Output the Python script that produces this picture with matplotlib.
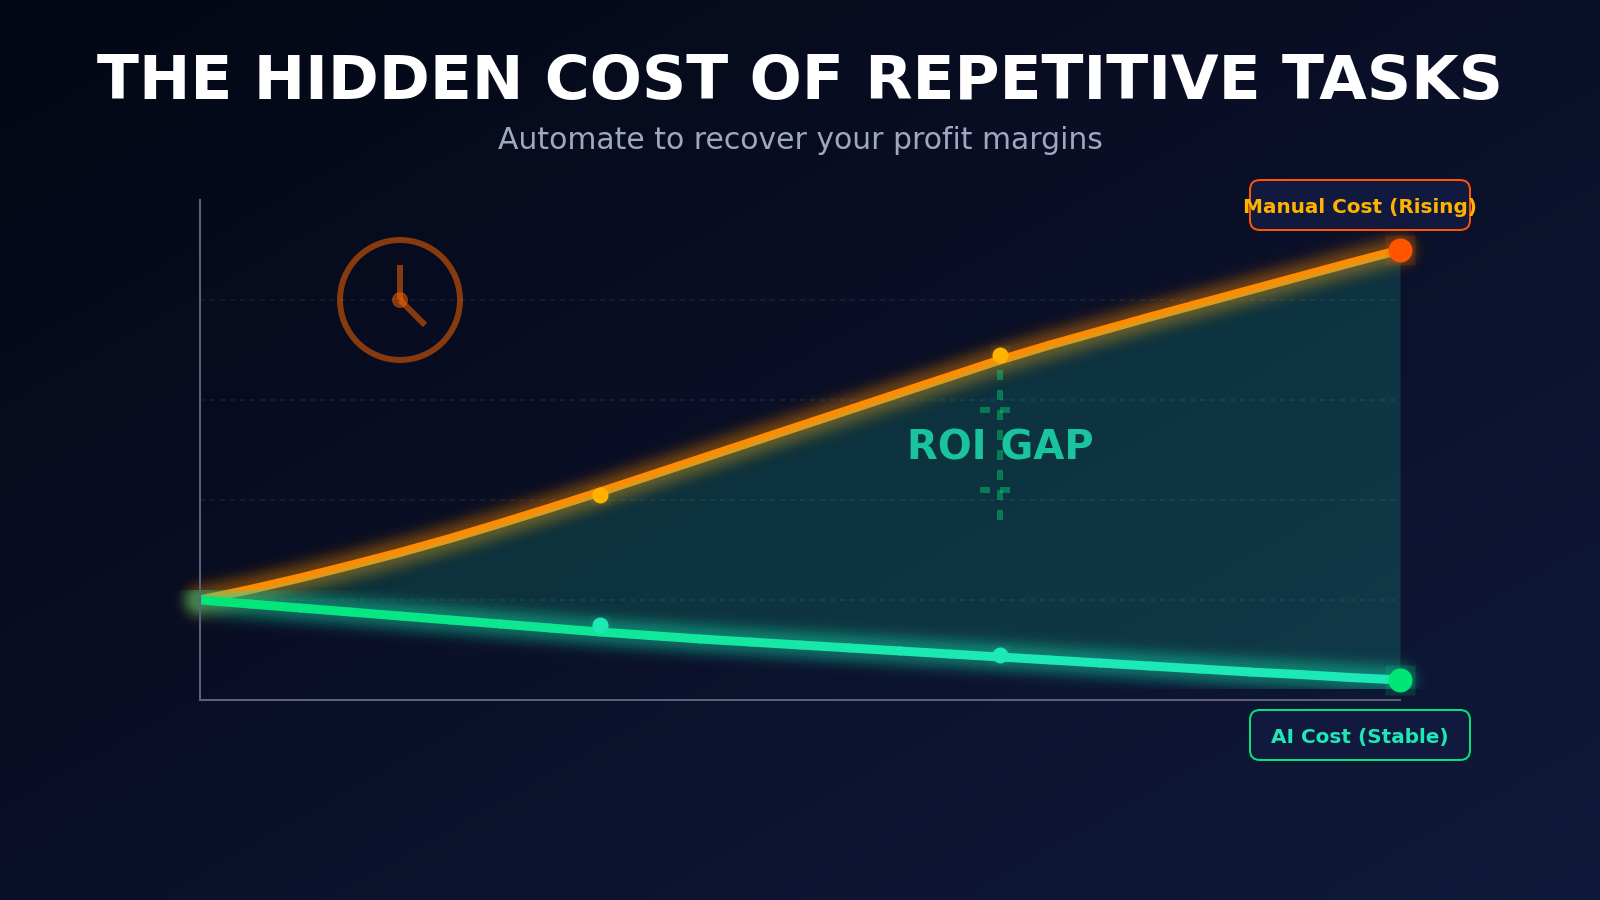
import numpy as np
import matplotlib
matplotlib.use("Agg")
import matplotlib.pyplot as plt
from matplotlib.collections import LineCollection
from matplotlib.colors import to_rgb
from matplotlib.patches import Circle, FancyBboxPatch, Rectangle

plt.rcParams['font.family'] = ['DejaVu Sans']
plt.rcParams['lines.scale_dashes'] = False

months = [0, 0.5, 1, 1.5, 2, 2.5, 3, 3.5, 4, 4.5, 5, 5.5, 6,
          6.5, 7, 7.5, 8, 8.5, 9, 9.5, 10, 10.5, 11, 11.5, 12]
manual_cost = [1.00, 1.105, 1.22, 1.345, 1.475, 1.615, 1.765, 1.92, 2.08, 2.245, 2.41, 2.575, 2.74,
               2.905, 3.07, 3.235, 3.40, 3.55, 3.69, 3.83, 3.965, 4.10, 4.235, 4.37, 4.50]
ai_cost = [1.00, 0.96, 0.92, 0.88, 0.84, 0.80, 0.76, 0.72, 0.68, 0.645, 0.61, 0.58, 0.55,
           0.52, 0.49, 0.46, 0.43, 0.40, 0.37, 0.34, 0.31, 0.28, 0.255, 0.225, 0.20]

manual_marker_months = [4, 8]
manual_marker_values = [2.05, 3.45]
ai_marker_months = [4, 8]
ai_marker_values = [0.75, 0.45]
grid_levels = [1, 2, 3, 4]

TITLE = "THE HIDDEN COST OF REPETITIVE TASKS"
SUBTITLE = "Automate to recover your profit margins"
MANUAL_LABEL = "Manual Cost (Rising)"
AI_LABEL = "AI Cost (Stable)"
GAP_LABEL = "ROI GAP"

ORANGE = "#ff8c00"
RED_ORANGE = "#ff5500"
AMBER = "#ffb300"
GREEN = "#00e676"
TEAL = "#1de9b6"

DPI = 100
W, H = 1600, 900
PX = 72 / DPI  # points per pixel
LINE_PX = 9


def gradient_bg():
    # corner to corner gradient over the whole canvas
    yy, xx = np.mgrid[0:H, 0:W]
    t = (xx / W + yy / H) / 2
    stops = [0.0, 0.3, 0.5, 1.0]
    cols = np.array([to_rgb("#030814"), to_rgb("#070c20"), to_rgb("#0b1029"), to_rgb("#0f1a3a")])
    return np.dstack([np.interp(t, stops, cols[:, i]) for i in range(3)])


def glow(ax, x, y, color, clip, peak=0.42, sigma=9.5, zorder=2):
    # stack of wide faint strokes, adding up to a gaussian falloff
    dists = np.arange(36, 0, -2)
    done = 0.0
    for d in dists:
        target = peak * np.exp(-d ** 2 / (2 * sigma ** 2))
        a = 1 - (1 - target) / (1 - done)
        done = target
        line, = ax.plot(x, y, color=color, alpha=a, lw=(LINE_PX + 2 * d) * PX,
                        solid_capstyle='round', solid_joinstyle='round',
                        zorder=zorder, clip_on=True)
        line.set_clip_path(clip)


fig = plt.figure(figsize=(W / DPI, H / DPI), dpi=DPI)

bg = fig.add_axes([0, 0, 1, 1], zorder=0)
bg.imshow(gradient_bg(), aspect='auto', interpolation='bilinear')
bg.axis('off')

# plot area: 100 px per unit on both axes
ax = fig.add_axes([200 / W, 200 / H, 1200 / W, 500 / H], zorder=1)
ax.patch.set_alpha(0)
ax.set_xlim(0, 12)
ax.set_ylim(0, 5)
ax.set_xticks([])
ax.set_yticks([])
for side in ['top', 'right']:
    ax.spines[side].set_visible(False)
for side in ['left', 'bottom']:
    ax.spines[side].set_color("#5c6178")
    ax.spines[side].set_linewidth(2 * PX)
    ax.spines[side].set_zorder(6)

ax.hlines(grid_levels, 0, 12, colors="#ffffff", alpha=0.08, lw=1.5 * PX,
          linestyles=[(0, (5 * PX, 5 * PX))], zorder=1)

# manual cost goes under the gap fill, so its lower half gets tinted
manual_clip = Rectangle((-1.2, 0.65), 14.4, 4.2, transform=ax.transData)
glow(ax, months, manual_cost, ORANGE, manual_clip, zorder=2)
ax.plot(months, manual_cost, color=ORANGE, lw=LINE_PX * PX, solid_capstyle='butt',
        solid_joinstyle='round', zorder=3)

ax.fill_between(months, ai_cost, manual_cost, color=TEAL, alpha=0.16, lw=0, zorder=4)

ai_clip = Rectangle((-1.2, 0.11), 14.4, 0.99, transform=ax.transData)
glow(ax, months, ai_cost, TEAL, ai_clip, zorder=5)

# AI line shifts from green to teal along its length
pts = np.column_stack([months, ai_cost])
segs = np.stack([pts[:-1], pts[1:]], axis=1)
c0, c1 = np.array(to_rgb(GREEN)), np.array(to_rgb(TEAL))
seg_cols = [tuple(c0 + (c1 - c0) * min(1.0, (i + 0.5) / 16)) for i in range(len(segs))]
ax.add_collection(LineCollection(segs, colors=seg_cols, linewidths=LINE_PX * PX,
                                 capstyle='round', zorder=6))

# gap bracket
gap_style = dict(color=GREEN, alpha=0.4, lw=6 * PX, ls=(0, (10 * PX, 10 * PX)),
                 solid_capstyle='butt', dash_capstyle='butt', zorder=7)
ax.plot([8, 8], [3.30, 1.80], **gap_style)
ax.plot([7.8, 8.2], [2.90, 2.90], **gap_style)
ax.plot([7.8, 8.2], [2.10, 2.10], **gap_style)
ax.text(8, 2.41, GAP_LABEL, color=TEAL, alpha=0.8, fontsize=40 * PX, fontweight='bold',
        ha='center', va='baseline', zorder=8)

# clock
clock_color = "#ff6600"
ax.add_patch(Circle((2, 4), 0.6, fill=False, ec=clock_color, alpha=0.52, lw=6 * PX, zorder=8))
ax.plot([2, 2], [4, 4.35], color=clock_color, alpha=0.52, lw=6 * PX, solid_capstyle='butt', zorder=8)
ax.plot([2, 2.25], [4, 3.75], color=clock_color, alpha=0.52, lw=6 * PX, solid_capstyle='butt', zorder=8)
ax.add_patch(Circle((2, 4), 0.08, fc=clock_color, ec='none', alpha=0.52, zorder=8))

# point markers with their faint square halos
ax.plot(manual_marker_months, manual_marker_values, ls='none', marker='s', ms=20 * PX,
        mfc=AMBER, mec='none', alpha=0.07, zorder=8)
ax.plot(manual_marker_months, manual_marker_values, ls='none', marker='o', ms=16 * PX,
        mfc=AMBER, mec='none', zorder=9)
ax.plot(ai_marker_months, ai_marker_values, ls='none', marker='s', ms=20 * PX,
        mfc=TEAL, mec='none', alpha=0.07, zorder=8)
ax.plot(ai_marker_months, ai_marker_values, ls='none', marker='o', ms=16 * PX,
        mfc=TEAL, mec='none', zorder=9)

ax.plot(months[-1], manual_cost[-1], marker='s', ms=30 * PX, mfc=RED_ORANGE, mec='none',
        alpha=0.16, zorder=8, clip_on=False)
ax.plot(months[-1], manual_cost[-1], marker='o', ms=24 * PX, mfc=RED_ORANGE, mec='none',
        zorder=9, clip_on=False)
ax.plot(months[-1], ai_cost[-1], marker='s', ms=30 * PX, mfc=GREEN, mec='none',
        alpha=0.16, zorder=8, clip_on=False)
ax.plot(months[-1], ai_cost[-1], marker='o', ms=24 * PX, mfc=GREEN, mec='none',
        zorder=9, clip_on=False)


def label_box(x0, y0, text, edge, color, baseline):
    ax.add_patch(FancyBboxPatch((x0, y0), 2.2, 0.5, boxstyle="round,pad=0,rounding_size=0.1",
                                fc="#111a3e", ec=edge, lw=2 * PX, clip_on=False, zorder=10))
    ax.text(x0 + 1.1, baseline, text, color=color, fontsize=20 * PX, fontweight='bold',
            ha='center', va='baseline', clip_on=False, zorder=11)


label_box(10.5, 4.7, MANUAL_LABEL, RED_ORANGE, AMBER, 4.87)
label_box(10.5, -0.6, AI_LABEL, GREEN, TEAL, -0.43)

fig.text(0.5, 1 - 99 / H, TITLE, color="white", fontsize=61.5 * PX, fontweight='bold',
         ha='center', va='baseline', zorder=3)
fig.text(0.5, 1 - 149 / H, SUBTITLE, color="#a0a8c0", fontsize=29.9 * PX,
         ha='center', va='baseline', zorder=3)

fig.savefig("out.png", dpi=DPI)
